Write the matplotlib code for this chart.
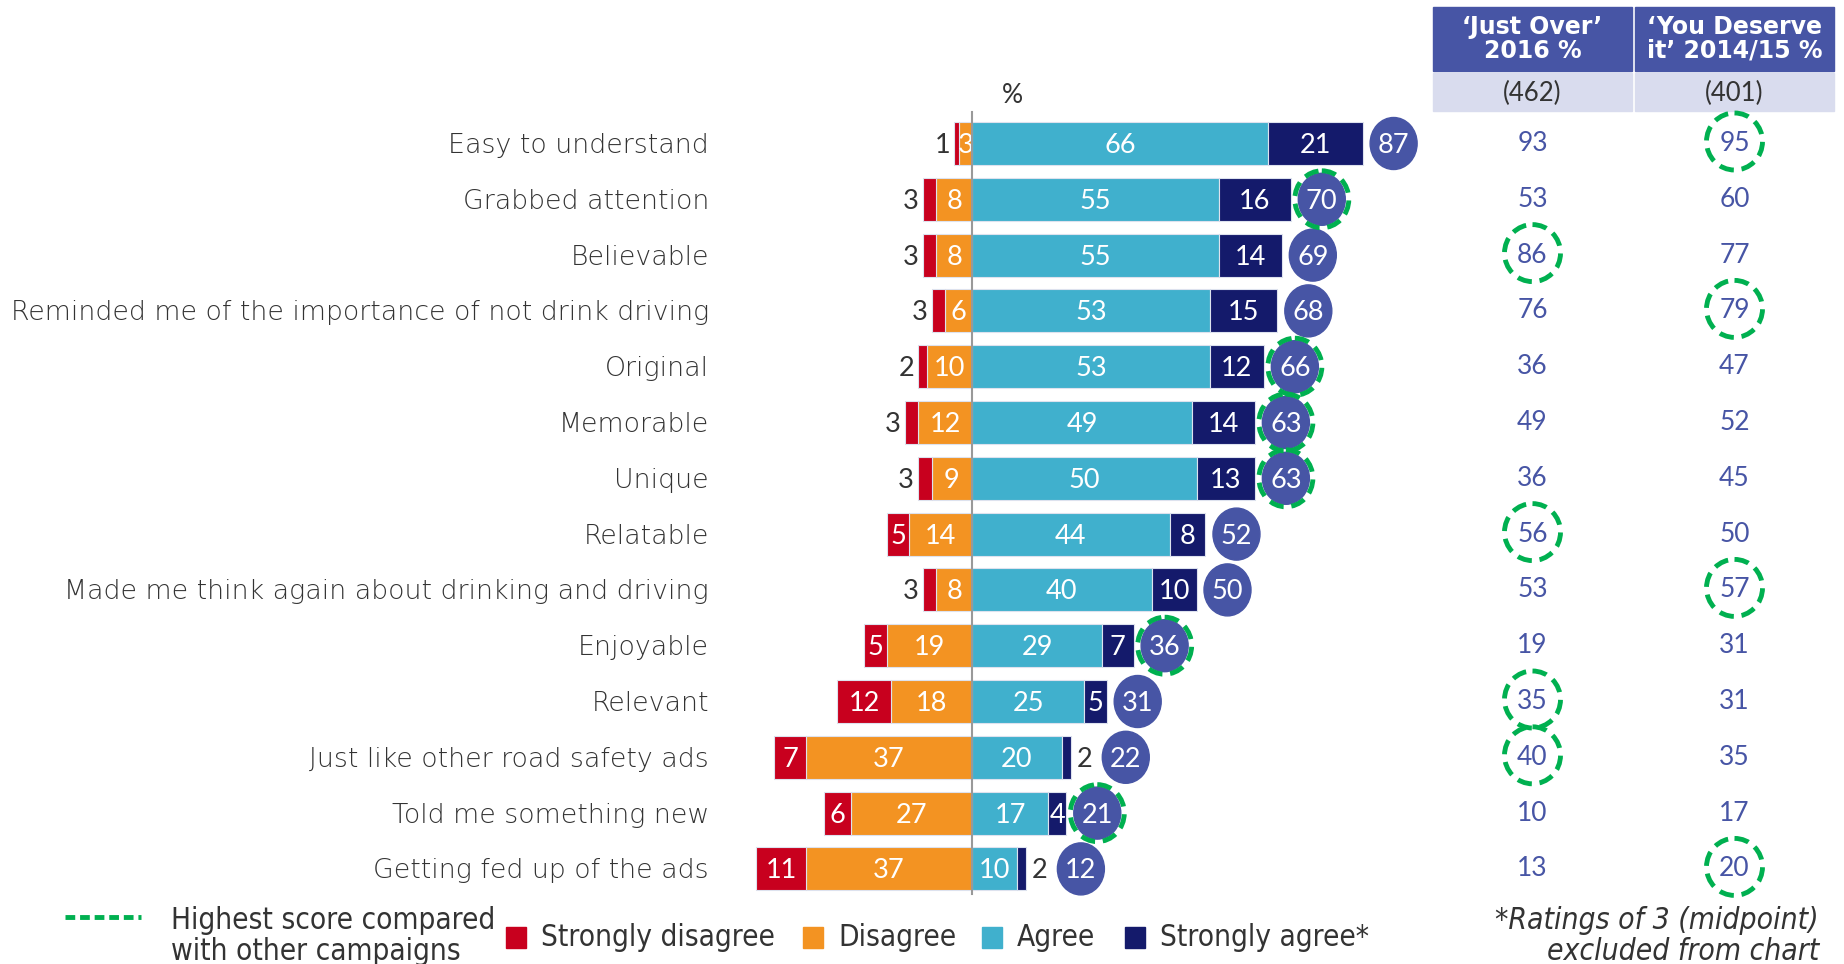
import matplotlib
matplotlib.use("Agg")
import matplotlib.pyplot as plt
from matplotlib.patches import Ellipse, Rectangle
from matplotlib import font_manager

fonts = font_manager.fontManager.ttflist
names = {f.name for f in fonts}
light = "Lato" if "Lato" in names else "DejaVu Sans"
# thin face for the statement labels, condensed face for the legend
thin = [f.fname for f in fonts if f.name == "DejaVu Sans" and "ExtraLight" in f.fname]
label_font = font_manager.FontProperties(fname=thin[0]) if thin else \
    font_manager.FontProperties(family="DejaVu Sans")
label_font.set_size(19.3)
cond = [f.fname for f in fonts if f.name == "DejaVu Sans" and f.fname.endswith("SansCondensed.ttf")]
legend_font = font_manager.FontProperties(fname=cond[0]) if cond else \
    font_manager.FontProperties(family="DejaVu Sans")
legend_font.set_size(21.3)
legend_italic = [f.fname for f in fonts if f.name == "DejaVu Sans"
                 and f.fname.endswith("SansCondensed-Oblique.ttf")]
note_font = font_manager.FontProperties(fname=legend_italic[0]) if legend_italic else \
    font_manager.FontProperties(family="DejaVu Sans", style="italic")
note_font.set_size(21.5)
plt.rcParams["font.family"] = [light, "DejaVu Sans"]

categories = [
    "Easy to understand",
    "Grabbed attention",
    "Believable",
    "Reminded me of the importance of not drink driving",
    "Original",
    "Memorable",
    "Unique",
    "Relatable",
    "Made me think again about drinking and driving",
    "Enjoyable",
    "Relevant",
    "Just like other road safety ads",
    "Told me something new",
    "Getting fed up of the ads",
]
strongly_disagree = [1, 3, 3, 3, 2, 3, 3, 5, 3, 5, 12, 7, 6, 11]
disagree = [3, 8, 8, 6, 10, 12, 9, 14, 8, 19, 18, 37, 27, 37]
agree = [66, 55, 55, 53, 53, 49, 50, 44, 40, 29, 25, 20, 17, 10]
strongly_agree = [21, 16, 14, 15, 12, 14, 13, 8, 10, 7, 5, 2, 4, 2]
total_agree = [87, 70, 69, 68, 66, 63, 63, 52, 50, 36, 31, 22, 21, 12]
just_over = [93, 53, 86, 76, 36, 49, 36, 56, 53, 19, 35, 40, 10, 13]
you_deserve = [95, 60, 77, 79, 47, 52, 45, 50, 57, 31, 31, 35, 17, 20]
# which scores are the highest across campaigns (0 = this ad, 1 = Just Over, 2 = You Deserve it)
best = [2, 0, 1, 2, 0, 0, 0, 1, 2, 0, 1, 1, 0, 2]
sample_sizes = ["(462)", "(401)"]
col_headers = ["\u2018Just Over\u2019\n2016 %", "\u2018You Deserve\nit\u2019 2014/15 %"]

RED = "#C8001E"
ORANGE = "#F39322"
CYAN = "#40B0CD"
NAVY = "#141A6B"
BLUE = "#4755A5"
GREEN = "#00B050"
GREY = "#333333"

W, H = 1844, 964
fig = plt.figure(figsize=(W / 100, H / 100), dpi=100)
ax = fig.add_axes([0, 0, 1, 1])
ax.axis("off")

# x in percentage points, y in rows
xpx, x0 = 4.49, 972
ax.set_xlim(-x0 / xpx, (W - x0) / xpx)
ypx, y0 = 55.8, 143.5
ax.set_ylim((H - y0) / ypx, -y0 / ypx)
ux = 1 / xpx   # one pixel in x units
uy = 1 / ypx   # one pixel in y units
left = -x0 / xpx

bh = 43 * uy
fs = 19.5
n = len(categories)

for i in range(n):
    sd, d, a, sa = strongly_disagree[i], disagree[i], agree[i], strongly_agree[i]
    ec = "#dde2ee"
    ax.barh(i, -d, height=bh, color=ORANGE, edgecolor=ec, lw=0.8)
    ax.barh(i, -sd, left=-d, height=bh, color=RED, edgecolor=ec, lw=0.8)
    ax.barh(i, a, height=bh, color=CYAN, edgecolor=ec, lw=0.8)
    ax.barh(i, sa, left=a, height=bh, color=NAVY, edgecolor=ec, lw=0.8)

    ty = i + 2 * uy
    ax.text(-d / 2, ty, str(d), color="white", fontsize=fs, ha="center", va="center")
    if sd >= 4:
        ax.text(-d - sd / 2, ty, str(sd), color="white", fontsize=fs, ha="center", va="center")
    else:
        ax.text(-d - sd - 4 * ux, ty, str(sd), color=GREY, fontsize=fs, ha="right", va="center")
    ax.text(a / 2, ty, str(a), color="white", fontsize=fs, ha="center", va="center")
    end = a + sa
    if sa >= 4:
        ax.text(a + sa / 2, ty, str(sa), color="white", fontsize=fs, ha="center", va="center")
        cx = end + 31 * ux
    else:
        ax.text(end + 14 * ux, ty, str(sa), color=GREY, fontsize=fs, ha="center", va="center")
        cx = end + 55 * ux
    ax.add_patch(Ellipse((cx, i), 47 * ux, 52 * uy, color=BLUE, zorder=3))
    ax.text(cx, ty, str(total_agree[i]), color="white", fontsize=fs, ha="center",
            va="center", zorder=4)
    if best[i] == 0:
        ax.add_patch(Ellipse((cx, i), 54 * ux, 57 * uy, fill=False, ec=GREEN, lw=3.5,
                             ls=(0, (3, 1.6)), zorder=4))

    ax.text(left + 709 * ux, ty, categories[i], color=GREY, fontproperties=label_font,
            ha="right", va="center")

# table on the right
cols = [(1433, 1632), (1635, 1834)]
for j, (l, r) in enumerate(cols):
    xl, xr = left + l * ux, left + r * ux
    ax.add_patch(Rectangle((xl, (7 - y0) * uy), xr - xl, 64 * uy, color=BLUE))
    ax.add_patch(Rectangle((xl, (73 - y0) * uy), xr - xl, 38 * uy, color="#D9DCEE"))
    xc = (xl + xr) / 2
    ax.text(xc, (39 - y0) * uy, col_headers[j], color="white", fontsize=17,
            fontweight="bold", family="DejaVu Sans", ha="center", va="center",
            linespacing=1.0)
    ax.text(xc, (93 - y0) * uy, sample_sizes[j], color=GREY, fontsize=18.5,
            ha="center", va="center")
    vals = just_over if j == 0 else you_deserve
    for i in range(n):
        ax.text(xc, i, str(vals[i]), color=BLUE, fontsize=19, ha="center", va="center")
        if best[i] == j + 1:
            ax.add_patch(Ellipse((xc, i - 2 * uy), 56 * ux, 57 * uy, fill=False, ec=GREEN,
                                 lw=3.5, ls=(0, (3, 1.6)), zorder=4))

# centre line and % label
ax.plot([0, 0], [(112 - y0) * uy, (894 - y0) * uy], color="#999999", lw=1.5, zorder=5)
ax.text(9, (96 - y0) * uy, "%", color=GREY, fontsize=19, ha="center", va="center")

# legend
yl = (937 - y0) * uy
ax.plot([left + 65 * ux, left + 141 * ux], [(917 - y0) * uy] * 2, color=GREEN,
        lw=3.5, ls=(0, (2, 1)))
ax.text(left + 171 * ux, (936 - y0) * uy, "Highest score compared\nwith other campaigns",
        color=GREY, fontproperties=legend_font, ha="left", va="center", linespacing=1.1)
legend_items = [("Strongly disagree", RED, 506), ("Disagree", ORANGE, 803),
                ("Agree", CYAN, 982), ("Strongly agree*", NAVY, 1125)]
for label, c, px in legend_items:
    xl = left + px * ux
    ax.add_patch(Rectangle((xl, (927 - y0) * uy), 20 * ux, 21 * uy, color=c))
    ax.text(xl + 35 * ux, yl, label, color=GREY, fontproperties=legend_font,
            ha="left", va="center")
ax.text(left + 1819 * ux, (936 - y0) * uy, "*Ratings of 3 (midpoint)\nexcluded from chart",
        color=GREY, fontproperties=note_font, ha="right", va="center", linespacing=1.1)

fig.savefig("out.png", dpi=100)
